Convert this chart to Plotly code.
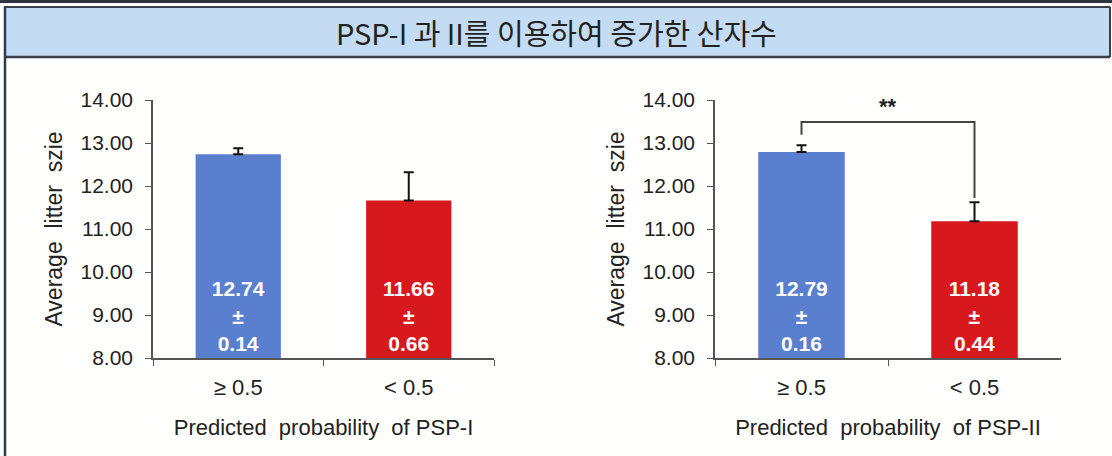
import plotly.graph_objects as go
from plotly.subplots import make_subplots

categories = ["≥ 0.5", "< 0.5"]
psp1_means = [12.74, 11.66]
psp1_se = [0.14, 0.66]
psp2_means = [12.79, 11.18]
psp2_se = [0.16, 0.44]
bar_colors = ["#5B7FCF", "#D7181C"]
y_ticks = [8, 9, 10, 11, 12, 13, 14]
y_labels = ["8.00", "9.00", "10.00", "11.00", "12.00", "13.00", "14.00"]
title_text = "PSP-I 과 II를 이용하여 증가한 산자수"
x_titles = ["Predicted  probability  of PSP-I", "Predicted  probability  of PSP-II"]
y_title = "Average  litter  szie"
sig_label = "**"
bracket_y = [13.19, 13.49, 13.49, 11.72]

W, H = 1112, 456
FONT = "Liberation Sans, Arial, sans-serif"

fig = make_subplots(rows=1, cols=2)

for col, (means, se) in enumerate([(psp1_means, psp1_se), (psp2_means, psp2_se)], start=1):
    labels = [f"<b>{m:.2f}<br>±<br>{s:.2f}</b>" for m, s in zip(means, se)]
    fig.add_trace(go.Bar(
        x=categories, y=[m - 8 for m in means], base=8,
        marker=dict(color=bar_colors, line=dict(width=0)),
        error_y=dict(type="data", symmetric=False, array=se, arrayminus=[0] * len(se),
                     color="#111111", thickness=2, width=5),
        text=labels, textposition="inside", insidetextanchor="start",
        textfont=dict(color="white", size=21, family=FONT),
        textangle=0, showlegend=False, hoverinfo="skip",
    ), row=1, col=col)

def px_x(p):
    return p / W

def px_y(p):
    return 1 - p / H

xdomains = [[px_x(153), px_x(494)], [px_x(715), px_x(1061)]]
ydom = [px_y(358), px_y(100)]

for i, name in enumerate(["xaxis", "xaxis2"]):
    fig.layout[name].update(
        domain=xdomains[i], type="category", range=[-0.5, 1.5], automargin=False,
        showline=True, linecolor="#555555", linewidth=1.5,
        ticks="outside", tickson="boundaries", ticklen=6, tickcolor="#555555",
        ticklabelstandoff=9,
        tickfont=dict(size=22, family=FONT, color="#222222"),
        title=dict(text=x_titles[i], font=dict(size=22, family=FONT, color="#222222"), standoff=20),
        showgrid=False, zeroline=False, fixedrange=True,
    )
for i, name in enumerate(["yaxis", "yaxis2"]):
    fig.layout[name].update(
        domain=ydom, range=[8, 14], tickvals=y_ticks, ticktext=y_labels, automargin=False,
        showline=True, linecolor="#555555", linewidth=1.5,
        ticks="outside", ticklen=6, tickcolor="#555555",
        ticklabelstandoff=8,
        tickfont=dict(size=21, family=FONT, color="#222222"),
        title=dict(text=y_title, font=dict(size=23, family=FONT, color="#222222"), standoff=11),
        showgrid=False, zeroline=False, fixedrange=True,
    )

# significance bracket on the right panel
bx = [categories[0], categories[0], categories[1], categories[1]]
fig.add_trace(go.Scatter(
    x=bx, y=bracket_y, xaxis="x2", yaxis="y2",
    mode="lines", line=dict(color="#444444", width=2),
    showlegend=False, hoverinfo="skip", cliponaxis=False,
))
fig.add_annotation(x=0.5, y=13.84, xref="x2", yref="y2", text=f"<b>{sig_label}</b>",
                   showarrow=False, font=dict(size=22, family=FONT, color="#222222"))

# frame decorations
shapes = [
    dict(type="rect", xref="paper", yref="paper", x0=0, x1=1, y0=px_y(3), y1=1,
         fillcolor="#2E3440", line=dict(width=0), layer="below"),
    dict(type="rect", xref="paper", yref="paper", x0=px_x(4), x1=px_x(1110), y0=px_y(57), y1=px_y(7),
         fillcolor="#C4DCF3", line=dict(width=0), layer="below"),
    dict(type="line", xref="paper", yref="paper", x0=px_x(4), x1=px_x(1110), y0=px_y(7), y1=px_y(7),
         line=dict(color="#3A3F48", width=2)),
    dict(type="line", xref="paper", yref="paper", x0=px_x(4), x1=px_x(1110), y0=px_y(57), y1=px_y(57),
         line=dict(color="#3A3F48", width=2.5)),
    dict(type="line", xref="paper", yref="paper", x0=px_x(5), x1=px_x(5), y0=0, y1=px_y(7),
         line=dict(color="#2F3A55", width=2.5)),
    dict(type="line", xref="paper", yref="paper", x0=px_x(1110), x1=px_x(1110), y0=px_y(57), y1=px_y(7),
         line=dict(color="#3A3F48", width=2)),
]
fig.update_layout(shapes=shapes)
fig.add_annotation(x=0.5, y=px_y(32), xref="paper", yref="paper", text=title_text,
                   xanchor="center", yanchor="middle",
                   showarrow=False, font=dict(size=29, family="Noto Sans CJK KR", color="#222222"))

fig.update_layout(
    width=W, height=H, margin=dict(l=0, r=0, t=0, b=0, autoexpand=False),
    paper_bgcolor="#FFFFFD", plot_bgcolor="rgba(0,0,0,0)",
    bargap=0.5, showlegend=False,
)

fig.write_html("out.html", config={"displayModeBar": False},
               post_script="document.body.style.margin='0';document.body.style.overflow='hidden';")
